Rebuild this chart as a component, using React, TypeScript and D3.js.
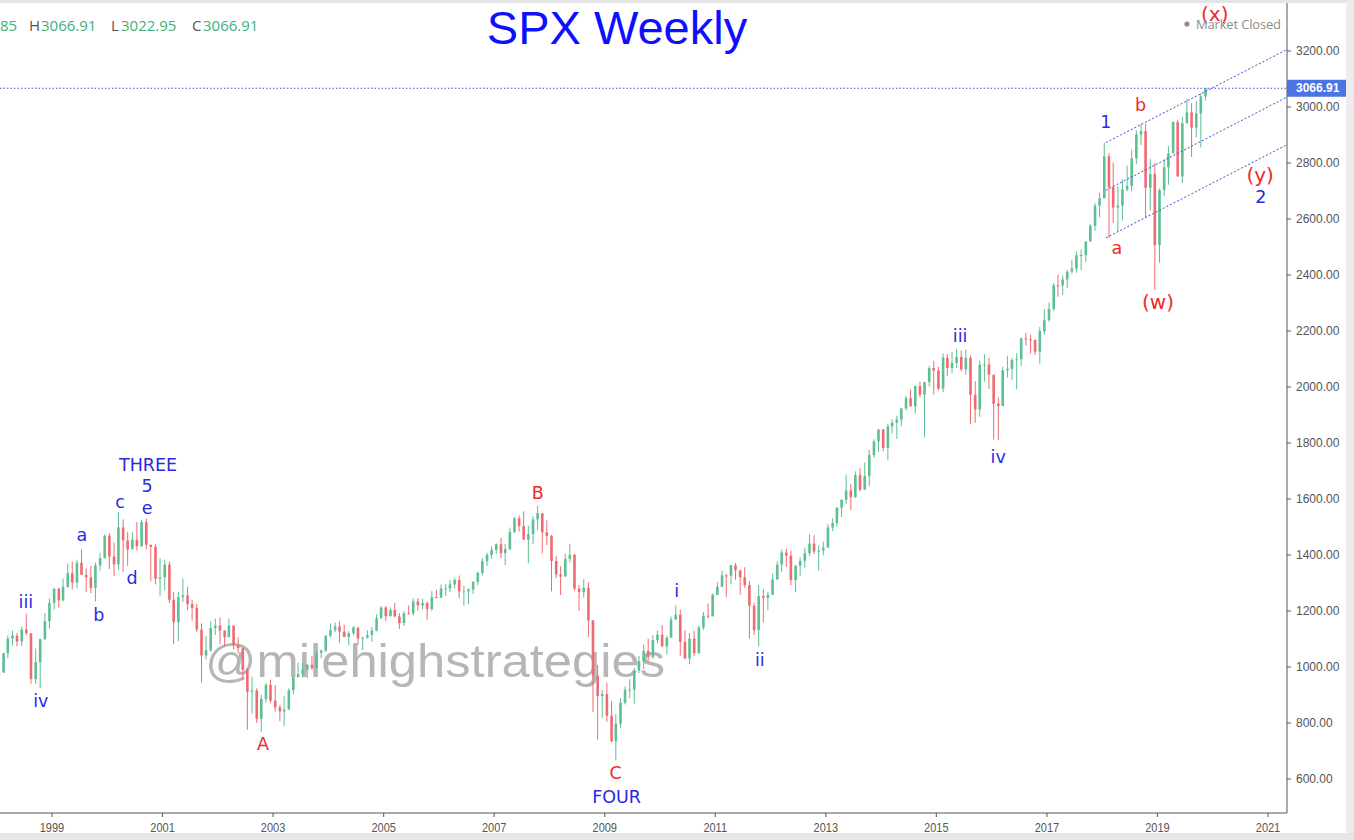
import * as d3 from 'd3';

const startMonth = new Date(1998, 0, 1);
const firstOpen = 970.43;

const closes = [
  980.28, 1049.34, 1101.75, 1111.75, 1090.82, 1133.84, 1120.67, 957.28, 1017.01, 1098.67, 1163.63, 1229.23,
  1279.64, 1238.33, 1286.37, 1335.18, 1301.84, 1372.71, 1328.72, 1320.41, 1282.71, 1362.93, 1388.91, 1469.25,
  1394.46, 1366.42, 1498.58, 1452.43, 1420.6, 1454.6, 1430.83, 1517.68, 1436.51, 1429.4, 1314.95, 1320.28,
  1366.01, 1239.94, 1160.33, 1249.46, 1255.82, 1224.42, 1211.23, 1133.58, 1040.94, 1059.78, 1139.45, 1148.08,
  1130.2, 1106.73, 1147.39, 1076.92, 1067.14, 989.82, 911.62, 916.07, 815.28, 885.76, 936.31, 879.82,
  855.7, 841.15, 848.18, 916.92, 963.59, 974.5, 990.31, 1008.01, 995.97, 1050.71, 1058.2, 1111.92,
  1131.13, 1144.94, 1126.21, 1107.3, 1120.68, 1140.84, 1101.72, 1104.24, 1114.58, 1130.2, 1173.82, 1211.92,
  1181.27, 1203.6, 1180.59, 1156.85, 1191.5, 1191.33, 1234.18, 1220.33, 1228.81, 1207.01, 1249.48, 1248.29,
  1280.08, 1280.66, 1294.83, 1310.61, 1270.09, 1270.2, 1276.66, 1303.82, 1335.85, 1377.94, 1400.63, 1418.3,
  1438.24, 1406.82, 1420.86, 1482.37, 1530.62, 1503.35, 1455.27, 1473.99, 1526.75, 1549.38, 1481.14, 1468.36,
  1378.55, 1330.63, 1322.7, 1385.59, 1400.38, 1280.0, 1267.38, 1282.83, 1166.36, 968.75, 896.24, 903.25,
  825.88, 735.09, 797.87, 872.81, 919.14, 919.32, 987.48, 1020.62, 1057.08, 1036.19, 1095.63, 1115.1,
  1073.87, 1104.49, 1169.43, 1186.69, 1089.41, 1030.71, 1101.6, 1049.33, 1141.2, 1183.26, 1180.55, 1257.64,
  1286.12, 1327.22, 1325.83, 1363.61, 1345.2, 1320.64, 1292.28, 1218.89, 1131.42, 1253.3, 1246.96, 1257.6,
  1312.41, 1365.68, 1408.47, 1397.91, 1310.33, 1362.16, 1379.32, 1406.58, 1440.67, 1412.16, 1416.18, 1426.19,
  1498.11, 1514.68, 1569.19, 1597.57, 1630.74, 1606.28, 1685.73, 1632.97, 1681.55, 1756.54, 1805.81, 1848.36,
  1782.59, 1859.45, 1872.34, 1883.95, 1923.57, 1960.23, 1930.67, 2003.37, 1972.29, 2018.05, 2067.56, 2058.9,
  1994.99, 2104.5, 2067.89, 2085.51, 2107.39, 2063.11, 2103.84, 1972.18, 1920.03, 2079.36, 2080.41, 2043.94,
  1940.24, 1932.23, 2059.74, 2065.3, 2096.95, 2098.86, 2173.6, 2170.95, 2168.27, 2126.15, 2198.81, 2238.83,
  2278.87, 2363.64, 2362.72, 2384.2, 2411.8, 2423.41, 2470.3, 2471.65, 2519.36, 2575.26, 2647.58, 2673.61,
  2823.81, 2713.83, 2640.87, 2648.05, 2705.27, 2718.37, 2816.29, 2901.52, 2913.98, 2711.74, 2760.17, 2506.85,
  2704.1, 2784.49, 2834.4, 2945.83, 2752.06, 2941.76, 2980.38, 2926.46, 2976.74, 3037.56, 3066.91,
];

const highs = [
  992.65, 1050.02, 1113.07, 1130.52, 1122.07, 1145.15, 1190.58, 1121.01, 1066.11, 1102.35, 1192.97, 1244.93,
  1280.79, 1283.0, 1316.21, 1370.19, 1375.98, 1383.59, 1420.33, 1352.0, 1361.25, 1373.17, 1408.29, 1473.0,
  1478.0, 1444.55, 1552.87, 1527.19, 1481.51, 1480.8, 1517.32, 1525.21, 1530.09, 1436.51, 1438.46, 1389.06,
  1383.37, 1376.38, 1267.42, 1269.3, 1315.93, 1286.62, 1239.78, 1226.27, 1155.4, 1110.61, 1163.38, 1173.62,
  1176.97, 1130.2, 1173.03, 1147.84, 1106.59, 1070.0, 994.46, 965.0, 924.02, 900.96, 941.82, 954.28,
  935.05, 864.64, 895.9, 924.24, 965.38, 1015.33, 1015.41, 1011.01, 1040.29, 1053.79, 1063.65, 1112.56,
  1155.38, 1158.98, 1163.23, 1150.57, 1127.74, 1146.34, 1140.84, 1108.6, 1131.54, 1142.05, 1188.46, 1217.33,
  1217.8, 1212.44, 1229.11, 1191.88, 1199.56, 1219.59, 1245.15, 1245.86, 1243.13, 1233.34, 1270.64, 1275.8,
  1294.9, 1297.57, 1310.88, 1318.16, 1326.7, 1290.68, 1280.42, 1306.74, 1340.28, 1389.45, 1407.89, 1431.81,
  1441.61, 1461.57, 1438.89, 1498.02, 1535.56, 1540.56, 1555.9, 1503.89, 1538.74, 1576.09, 1545.79, 1523.57,
  1471.77, 1396.02, 1359.68, 1404.57, 1440.24, 1404.05, 1292.17, 1313.15, 1303.04, 1167.03, 1007.51, 918.85,
  943.85, 877.86, 832.98, 888.7, 930.17, 956.23, 996.68, 1039.47, 1080.15, 1101.36, 1113.69, 1130.38,
  1150.45, 1112.42, 1180.16, 1219.8, 1205.13, 1131.23, 1120.95, 1129.24, 1148.9, 1196.14, 1227.08, 1262.6,
  1302.67, 1344.07, 1332.28, 1364.56, 1370.58, 1345.2, 1356.48, 1307.38, 1229.29, 1292.66, 1277.55, 1269.37,
  1333.47, 1378.04, 1419.15, 1422.38, 1415.32, 1363.46, 1391.74, 1426.68, 1474.51, 1470.96, 1434.27, 1448.0,
  1509.94, 1530.94, 1570.28, 1597.57, 1687.18, 1654.19, 1698.78, 1709.67, 1729.86, 1775.22, 1813.55, 1849.44,
  1850.84, 1867.92, 1883.97, 1897.28, 1924.03, 1968.17, 1991.39, 2005.04, 2019.26, 2018.19, 2075.76, 2093.55,
  2072.36, 2119.59, 2117.52, 2125.92, 2134.72, 2129.87, 2132.82, 2112.66, 2020.86, 2094.32, 2116.48, 2104.27,
  2038.2, 1962.96, 2072.21, 2111.05, 2103.48, 2120.55, 2177.09, 2193.81, 2187.87, 2169.6, 2214.1, 2277.53,
  2300.99, 2371.54, 2400.98, 2398.16, 2418.71, 2453.82, 2484.04, 2490.87, 2519.44, 2582.98, 2657.74, 2694.97,
  2872.87, 2835.96, 2801.9, 2717.49, 2742.24, 2791.47, 2848.03, 2916.5, 2940.91, 2939.86, 2815.15, 2800.18,
  2708.95, 2813.49, 2860.31, 2949.52, 2954.13, 2964.15, 3027.98, 3013.59, 3021.99, 3050.1, 3066.91,
];

const lows = [
  912.83, 979.62, 1032.1, 1076.7, 1074.39, 1074.67, 1114.3, 939.98, 939.87, 923.32, 1098.67, 1136.89,
  1205.46, 1211.89, 1234.0, 1282.56, 1277.31, 1281.41, 1328.72, 1268.37, 1263.71, 1233.7, 1343.99, 1387.38,
  1350.14, 1325.07, 1346.62, 1339.4, 1361.09, 1420.6, 1415.57, 1431.0, 1419.44, 1305.79, 1294.9, 1254.07,
  1274.62, 1228.33, 1081.19, 1091.99, 1232.0, 1203.03, 1165.54, 1124.87, 944.75, 1026.76, 1054.31, 1114.51,
  1081.66, 1074.36, 1106.73, 1063.46, 1048.96, 952.92, 775.68, 833.44, 800.2, 768.63, 872.05, 872.1,
  840.34, 806.29, 788.9, 847.85, 902.83, 963.59, 962.1, 960.84, 990.36, 995.97, 1031.2, 1053.41,
  1105.08, 1124.44, 1087.16, 1107.23, 1076.32, 1113.32, 1078.78, 1060.72, 1101.29, 1090.19, 1127.6, 1173.76,
  1163.75, 1180.95, 1176.92, 1136.15, 1146.18, 1188.3, 1183.55, 1201.07, 1205.35, 1168.2, 1201.07, 1246.59,
  1245.74, 1253.61, 1268.42, 1280.74, 1245.34, 1219.29, 1224.54, 1261.3, 1290.93, 1327.1, 1360.98, 1385.93,
  1403.97, 1389.42, 1363.98, 1416.37, 1476.7, 1484.18, 1454.25, 1370.6, 1439.29, 1489.56, 1406.1, 1435.65,
  1270.05, 1316.75, 1256.98, 1324.35, 1373.72, 1272.0, 1200.44, 1247.45, 1106.42, 839.8, 741.02, 818.69,
  804.47, 731.1, 666.79, 783.32, 866.1, 888.86, 869.32, 978.51, 991.97, 1019.95, 1029.38, 1085.89,
  1071.59, 1044.5, 1105.24, 1170.69, 1040.78, 1028.33, 1010.91, 1039.7, 1048.08, 1131.87, 1173.0, 1186.6,
  1257.62, 1289.14, 1249.05, 1294.7, 1311.8, 1258.07, 1282.86, 1101.54, 1114.22, 1074.77, 1158.66, 1202.37,
  1258.86, 1312.41, 1340.03, 1357.38, 1291.98, 1266.74, 1325.41, 1354.65, 1396.56, 1403.28, 1343.35, 1398.11,
  1426.19, 1485.01, 1501.48, 1536.03, 1581.28, 1560.33, 1604.57, 1627.47, 1633.41, 1646.47, 1746.2, 1767.99,
  1770.45, 1737.92, 1834.44, 1814.36, 1859.79, 1915.98, 1930.67, 1904.78, 1964.04, 1820.66, 2001.01, 1972.56,
  1988.12, 1980.9, 2039.69, 2048.38, 2067.93, 2056.32, 2044.02, 1867.01, 1871.91, 1893.7, 2019.39, 1993.26,
  1812.29, 1810.1, 1937.09, 2033.8, 2025.91, 1991.68, 2074.02, 2147.58, 2119.12, 2114.72, 2083.79, 2187.44,
  2233.62, 2271.65, 2322.25, 2328.95, 2352.72, 2405.7, 2407.7, 2417.35, 2446.55, 2520.4, 2557.45, 2605.52,
  2682.36, 2532.69, 2585.89, 2553.8, 2594.62, 2698.67, 2698.95, 2796.34, 2864.12, 2603.54, 2631.09, 2346.58,
  2443.96, 2681.83, 2722.27, 2848.63, 2750.52, 2728.81, 2952.22, 2822.12, 2891.85, 2855.94, 3022.95,
];

const priceTicks = [600, 800, 1000, 1200, 1400, 1600, 1800, 2000, 2200, 2400, 2600, 2800, 3000, 3200];
const yearTicks = [1999, 2001, 2003, 2005, 2007, 2009, 2011, 2013, 2015, 2017, 2019, 2021];

const lastPrice = 3066.91;
const headerValues = { O: '85', H: '3066.91', L: '3022.95', C: '3066.91' };

// parallel channel: upper line anchors + distance to the lower line
const channelUpper = [
  { date: '2018-01-26', price: 2872.87 },
  { date: '2021-05-05', price: 3205 },
];
const channelWidth = 340.18;

type WaveLabel = { text: string; date: string; price: number; color: string; size?: number };
const BLUE = '#2a2ae2';
const RED = '#ee2a2a';
const waveLabels: WaveLabel[] = [
  { text: '(x)', date: '2020-01-15', price: 3332, color: RED, size: 20 },
  { text: '1', date: '2018-01-26', price: 2946, color: BLUE },
  { text: 'b', date: '2018-09-12', price: 3007, color: RED },
  { text: 'a', date: '2018-04-08', price: 2496, color: RED },
  { text: '(w)', date: '2019-01-05', price: 2304, color: RED, size: 20 },
  { text: '(y)', date: '2020-11-10', price: 2757, color: RED, size: 20 },
  { text: '2', date: '2020-11-14', price: 2679, color: BLUE },
  { text: 'iii', date: '2015-06-07', price: 2182, color: BLUE },
  { text: 'iv', date: '2016-02-14', price: 1750, color: BLUE },
  { text: 'i', date: '2010-04-22', price: 1271, color: BLUE },
  { text: 'ii', date: '2011-10-23', price: 1025, color: BLUE },
  { text: 'C', date: '2009-03-14', price: 621, color: RED },
  { text: 'FOUR', date: '2009-03-20', price: 536, color: BLUE },
  { text: 'B', date: '2007-10-16', price: 1621, color: RED },
  { text: 'A', date: '2002-10-26', price: 725, color: RED },
  { text: 'THREE', date: '2000-09-27', price: 1721, color: BLUE },
  { text: '5', date: '2000-09-20', price: 1646, color: BLUE },
  { text: 'c', date: '2000-03-25', price: 1589, color: BLUE },
  { text: 'e', date: '2000-09-20', price: 1568, color: BLUE },
  { text: 'd', date: '2000-06-13', price: 1318, color: BLUE },
  { text: 'a', date: '1999-07-17', price: 1471, color: BLUE },
  { text: 'b', date: '1999-11-06', price: 1186, color: BLUE },
  { text: 'iii', date: '1998-07-12', price: 1232, color: BLUE },
  { text: 'iv', date: '1998-10-19', price: 879, color: BLUE },
];

const W = 1354;
const H = 840;
const paneRight = 1287;
const paneBottom = 813;
const UP = '#5dbf92';
const DOWN = '#ee6b72';
const parse = d3.timeParse('%Y-%m-%d');

export default function App() {
  const x = d3.scaleTime().domain([new Date(1999, 0, 1), new Date(2021, 0, 1)]).range([52, 1268]);
  const y = d3.scaleLinear().domain([600, 3200]).range([779, 51]);

  const candles = closes.map((c, i) => {
    const m = d3.timeMonth.offset(startMonth, i);
    const mid = d3.timeDay.offset(m, 14);
    const o = i === 0 ? firstOpen : closes[i - 1];
    return { x: x(mid), o, h: highs[i], l: lows[i], c };
  });

  const up0 = { x: x(parse(channelUpper[0].date)!), p: channelUpper[0].price };
  const up1 = { x: x(parse(channelUpper[1].date)!), p: channelUpper[1].price };
  const channel = [0, channelWidth / 2, channelWidth].map((off) => ({
    x1: up0.x,
    y1: y(up0.p - off),
    x2: up1.x,
    y2: y(up1.p - off),
  }));

  const sans = 'Liberation Sans, Arial, sans-serif';
  const labelFont = 'DejaVu Sans, Verdana, sans-serif';

  return (
    <svg width={W} height={H} style={{ position: 'absolute', left: 0, top: 0 }} fontFamily={sans}>
      <rect width={W} height={H} fill="#fff" />
      <rect x={0} y={0} width={W} height={3} fill="#e4e4e4" />
      <rect x={1346} y={0} width={8} height={H} fill="#ececec" />
      <rect x={0} y={833} width={W} height={7} fill="#e6e6e6" />

      <defs>
        <clipPath id="pane">
          <rect x={0} y={3} width={paneRight} height={paneBottom - 3} />
        </clipPath>
      </defs>

      {/* watermark */}
      <text x={205} y={677} fontSize={47} fill="#a9a9a9" fillOpacity={0.85} textLength={460} lengthAdjust="spacingAndGlyphs">
        @milehighstrategies
      </text>

      <g clipPath="url(#pane)">
        {candles.map((d, i) => {
          const col = d.c >= d.o ? UP : DOWN;
          const top = y(Math.max(d.o, d.c));
          const bot = y(Math.min(d.o, d.c));
          return (
            <g key={i}>
              <line x1={d.x} x2={d.x} y1={y(d.h)} y2={y(d.l)} stroke={col} strokeWidth={1} />
              <rect x={d.x - 1.3} y={top} width={2.6} height={Math.max(1, bot - top)} fill={col} />
            </g>
          );
        })}

        <line x1={0} x2={paneRight} y1={y(lastPrice)} y2={y(lastPrice)} stroke="#4a4ae0" strokeWidth={1} strokeDasharray="1.5,2" />
        {channel.map((c, i) => (
          <line key={i} {...c} stroke="#4646dc" strokeWidth={1} strokeDasharray="2,2" />
        ))}
      </g>

      {/* wave labels */}
      {waveLabels.map((l, i) => (
        <text
          key={i}
          x={x(parse(l.date)!)}
          y={y(l.price)}
          textAnchor="middle"
          dominantBaseline="central"
          fontFamily={labelFont}
          fontSize={l.size ?? 17.5}
          fill={l.color}
        >
          {l.text}
        </text>
      ))}

      {/* title */}
      <text x={617} y={44} textAnchor="middle" fontSize={47} fill="#0f0fff">
        SPX Weekly
      </text>

      {/* OHLC header */}
      <g fontFamily="Open Sans, sans-serif" fontSize={15}>
        <text x={0} y={31} fill="#3fae7a">{headerValues.O}</text>
        <text x={29} y={31} fill="#555">H</text>
        <text x={41} y={31} fill="#3fae7a">{headerValues.H}</text>
        <text x={111} y={31} fill="#555">L</text>
        <text x={121} y={31} fill="#3fae7a">{headerValues.L}</text>
        <text x={192} y={31} fill="#555">C</text>
        <text x={203} y={31} fill="#3fae7a">{headerValues.C}</text>
      </g>

      <circle cx={1187} cy={24} r={2.6} fill="#8c8c8c" />
      <text x={1196} y={29} fontSize={13} fill="#8c8c8c" fontFamily="Open Sans, sans-serif" textLength={85}>
        Market Closed
      </text>

      {/* price axis */}
      <line x1={paneRight} x2={paneRight} y1={3} y2={paneBottom} stroke="#555" />
      {priceTicks.map((p) => (
        <g key={p}>
          <line x1={paneRight} x2={paneRight + 4} y1={y(p)} y2={y(p)} stroke="#555" />
          <text x={1296} y={y(p)} dominantBaseline="central" fontSize={12} fill="#555">
            {d3.format('.2f')(p)}
          </text>
        </g>
      ))}
      <rect x={paneRight} y={y(lastPrice) - 8.5} width={59} height={17} fill="#4a74e4" />
      <text x={1296} y={y(lastPrice)} dominantBaseline="central" fontSize={12} fill="#fff" fontWeight="bold">
        {lastPrice.toFixed(2)}
      </text>

      {/* time axis */}
      <line x1={0} x2={paneRight} y1={paneBottom} y2={paneBottom} stroke="#555" />
      {yearTicks.map((yr) => {
        const xx = x(new Date(yr, 0, 1));
        return (
          <g key={yr}>
            <line x1={xx} x2={xx} y1={paneBottom} y2={paneBottom + 4} stroke="#555" />
            <text x={xx} y={827} textAnchor="middle" dominantBaseline="central" fontSize={12.5} fill="#555" transform={`translate(${xx},0) scale(0.88,1) translate(${-xx},0)`}>
              {yr}
            </text>
          </g>
        );
      })}
    </svg>
  );
}
